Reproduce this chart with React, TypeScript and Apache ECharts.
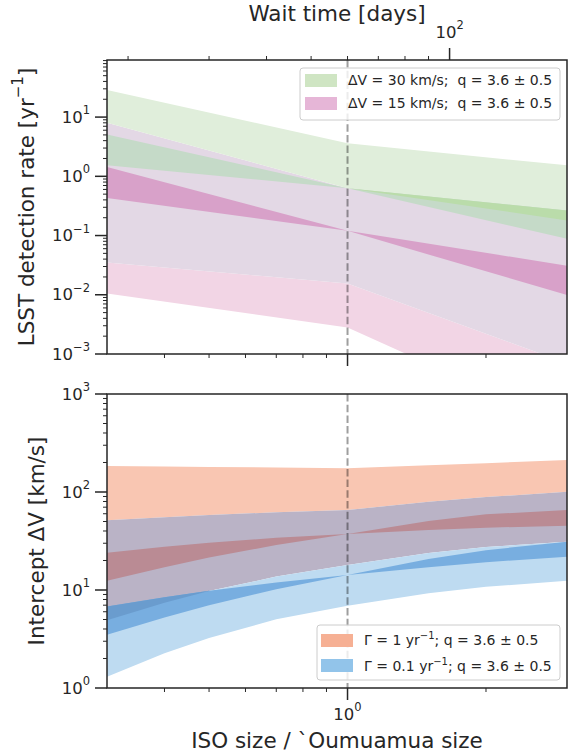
import React, { useEffect, useRef } from 'react';
import * as echarts from 'echarts';

const FONT = 'DejaVu Sans';
const INK = '#262626';

// ---------- Top panel: LSST detection rate vs ISO size ----------
const sizeTop = [0.3, 1, 3];
const greenUpper = [28.7, 3.6, 1.53];
const greenPinkBoundary = [8.0, 0.63, 0.18];
const pinkWideLower = [0.035, 0.0155, 0.0007];
const pinkOuterLower = [0.0105, 0.0028, 0.00006];
const greenQSteep = [5.1, 0.63, 0.088];
const greenQShallow = [1.53, 0.63, 0.265];
const pinkQSteep = [1.44, 0.12, 0.0099];
const pinkQShallow = [0.43, 0.12, 0.031];

// ---------- Bottom panel: intercept dV vs ISO size ----------
const sizeBottom = [0.3, 0.4, 0.5, 0.7, 1, 1.5, 2, 3];
const salmonUpper = [184, 182, 180, 178, 175, 188, 197, 212];
const blueUpper = [51.4, 55.4, 58.2, 62.1, 65.5, 79.3, 88.7, 100.7];
const salmonLower = [4.9, 7.4, 9.75, 13.7, 18, 23.8, 27.5, 31.1];
const blueLower = [1.3, 2.26, 3.24, 5.02, 6.9, 9.27, 10.8, 12.4];
const salmonQA = [24.0, 27.7, 30.4, 34.1, 37.3, 41.0, 43.2, 45.3];
const salmonQB = [12.4, 17.1, 21.4, 28.8, 37.3, 50.7, 59.2, 65.5];
const blueQC = [6.8, 8.43, 9.8, 11.9, 14.2, 17.1, 19.2, 21.9];
const blueQD = [3.5, 5.25, 7.0, 10.2, 14.2, 20.7, 25.5, 31.1];

// ---------- Ticks ----------
const oumuamuaSize = 1;
const sizeMajorTicks = [1];
const sizeMinorTicks = [0.4, 0.5, 0.6, 0.7, 0.8, 0.9, 2];
const waitMajorTicks = [100];
const waitMinorTicks = [20, 30, 40, 50, 60, 70, 80, 90];
const rateMajorTicks = [0.001, 0.01, 0.1, 1, 10];
const dvMajorTicks = [1, 10, 100, 1000];
const minorMultipliers = [2, 3, 4, 5, 6, 7, 8, 9];

const legendTop = ['ΔV = 30 km/s;  q = 3.6 ± 0.5', 'ΔV = 15 km/s;  q = 3.6 ± 0.5'];
const legendBottom = [['Γ = 1 yr', '−1', '; q = 3.6 ± 0.5'], ['Γ = 0.1 yr', '−1', '; q = 3.6 ± 0.5']];

const X_MIN = 0.3, X_MAX = 3;
const RATE_MIN = 0.001, RATE_MAX = 92;
const DV_MIN = 1, DV_MAX = 1000;
const WAIT_MIN = 18, WAIT_MAX = 180;

const minorsOf = (majors: number[], lo: number, hi: number) =>
  majors.flatMap((d) => minorMultipliers.map((m) => m * d)).filter((v) => v > lo && v < hi);

const powLabel = (v: number) => {
  const e = Math.round(Math.log10(v));
  return `{n|10}{e|${e < 0 ? '−' + -e : e}}`;
};

const tickRich = {
  n: { fontSize: 16.5, fontFamily: FONT, fill: INK },
  e: { fontSize: 11.5, fontFamily: FONT, fill: INK, padding: [0, 0, 14, 0] },
};

function band(name: string, gi: number, xs: number[], a: number[], b: number[], color: string) {
  return {
    type: 'custom',
    name,
    xAxisIndex: gi,
    yAxisIndex: gi,
    clip: true,
    silent: true,
    z: 2,
    data: xs.map((x, i) => [x, a[i], b[i]]),
    encode: { x: 0, y: [1, 2] },
    renderItem: (params: any, api: any) => {
      if (params.dataIndex !== 0) return null;
      const pts: number[][] = [];
      for (let i = 0; i < xs.length; i++) pts.push(api.coord([xs[i], a[i]]));
      for (let i = xs.length - 1; i >= 0; i--) pts.push(api.coord([xs[i], b[i]]));
      return { type: 'polygon', shape: { points: pts }, style: { fill: color, stroke: 'none' } };
    },
  };
}

function line(x1: number, y1: number, x2: number, y2: number, w: number, extra: any = {}) {
  return { type: 'line', shape: { x1, y1, x2, y2 }, style: { stroke: INK, lineWidth: w, fill: 'none', ...extra } };
}

function frameSeries(gi: number, yMin: number, yMax: number, yMajor: number[], showXLabels: boolean) {
  const yMinor = minorsOf(yMajor, yMin, yMax);
  return {
    type: 'custom',
    xAxisIndex: gi,
    yAxisIndex: gi,
    clip: false,
    silent: true,
    z: 5,
    data: [[X_MIN, yMin]],
    renderItem: (params: any, api: any) => {
      const tl = api.coord([X_MIN, yMax]);
      const br = api.coord([X_MAX, yMin]);
      const children: any[] = [];
      const d0 = api.coord([oumuamuaSize, yMax]);
      const d1 = api.coord([oumuamuaSize, yMin]);
      children.push(line(d0[0], d0[1], d1[0], d1[1], 2, { stroke: 'rgba(0,0,0,0.38)', lineDash: [7.5, 3.2] }));
      children.push({
        type: 'rect',
        shape: { x: tl[0], y: tl[1], width: br[0] - tl[0], height: br[1] - tl[1] },
        style: { fill: 'none', stroke: INK, lineWidth: 1.5 },
      });
      yMajor.forEach((v) => {
        const p = api.coord([X_MIN, v]);
        children.push(line(p[0] - 12, p[1], p[0], p[1], 1.5));
        children.push({
          type: 'text',
          x: p[0] - 17,
          y: p[1],
          style: { text: powLabel(v), rich: tickRich, align: 'right', verticalAlign: 'middle' },
        });
      });
      yMinor.forEach((v) => {
        const p = api.coord([X_MIN, v]);
        children.push(line(p[0] - 4, p[1], p[0], p[1], 1));
      });
      sizeMajorTicks.forEach((v) => {
        const p = api.coord([v, yMin]);
        children.push(line(p[0], p[1], p[0], p[1] + 12, 1.5));
        if (showXLabels) {
          children.push({
            type: 'text',
            x: p[0],
            y: p[1] + 26,
            style: { text: powLabel(v), rich: tickRich, align: 'center', verticalAlign: 'middle' },
          });
        }
      });
      sizeMinorTicks.forEach((v) => {
        const p = api.coord([v, yMin]);
        children.push(line(p[0], p[1], p[0], p[1] + 4, 1));
      });
      return { type: 'group', children };
    },
  };
}

function waitAxisSeries() {
  return {
    type: 'custom',
    xAxisIndex: 2,
    yAxisIndex: 0,
    clip: false,
    silent: true,
    z: 5,
    data: [[WAIT_MIN, RATE_MAX]],
    renderItem: (params: any, api: any) => {
      const children: any[] = [];
      waitMajorTicks.forEach((v) => {
        const p = api.coord([v, RATE_MAX]);
        children.push(line(p[0], p[1] - 12, p[0], p[1], 1.5));
        children.push({
          type: 'text',
          x: p[0],
          y: p[1] - 28,
          style: { text: powLabel(v), rich: tickRich, align: 'center', verticalAlign: 'middle' },
        });
      });
      waitMinorTicks.forEach((v) => {
        const p = api.coord([v, RATE_MAX]);
        children.push(line(p[0], p[1] - 4, p[0], p[1], 1));
      });
      return { type: 'group', children };
    },
  };
}

const titleRich = {
  n: { fontSize: 21.5, fontFamily: FONT, fill: INK },
  e: { fontSize: 15, fontFamily: FONT, fill: INK, padding: [0, 0, 16, 0] },
};
const legRich = {
  n: { fontSize: 14, fontFamily: FONT, fill: INK },
  e: { fontSize: 10, fontFamily: FONT, fill: INK, padding: [0, 0, 10, 0] },
};

function buildOption() {
  const xLog = (gi: number) => ({ type: 'log', logBase: 10, gridIndex: gi, min: X_MIN, max: X_MAX, show: false });
  const graphics: any[] = [
    { type: 'text', x: 337, y: 13, z: 100, style: { text: 'Wait time [days]', fontSize: 21.5, fontFamily: FONT, fill: INK, align: 'center', verticalAlign: 'middle' } },
    { type: 'text', x: 337, y: 740, z: 100, style: { text: 'ISO size / `Oumuamua size', fontSize: 21.5, fontFamily: FONT, fill: INK, align: 'center', verticalAlign: 'middle' } },
    { type: 'text', x: 26, y: 207, rotation: Math.PI / 2, z: 100, style: { text: '{n|LSST detection rate [yr}{e|−1}{n|]}', rich: titleRich, align: 'center', verticalAlign: 'middle' } },
    { type: 'text', x: 36, y: 541, rotation: Math.PI / 2, z: 100, style: { text: '{n|Intercept ΔV [km/s]}', rich: titleRich, align: 'center', verticalAlign: 'middle' } },
    // top legend
    { type: 'rect', z: 100, shape: { x: 300, y: 68, width: 260, height: 52, r: 3 }, style: { fill: 'rgba(255,255,255,0.8)', stroke: '#cccccc', lineWidth: 1 } },
    { type: 'rect', z: 101, shape: { x: 305, y: 74, width: 32, height: 13 }, style: { fill: '#cfe5c3' } },
    { type: 'rect', z: 101, shape: { x: 305, y: 97, width: 32, height: 13 }, style: { fill: '#e6b6d7' } },
    { type: 'text', z: 101, x: 348, y: 80, style: { text: legendTop[0], fontSize: 14, fontFamily: FONT, fill: INK, align: 'left', verticalAlign: 'middle' } },
    { type: 'text', z: 101, x: 348, y: 103, style: { text: legendTop[1], fontSize: 14, fontFamily: FONT, fill: INK, align: 'left', verticalAlign: 'middle' } },
    // bottom legend
    { type: 'rect', z: 100, shape: { x: 317, y: 625, width: 243, height: 55, r: 3 }, style: { fill: 'rgba(255,255,255,0.8)', stroke: '#cccccc', lineWidth: 1 } },
    { type: 'rect', z: 101, shape: { x: 321, y: 634, width: 32, height: 13 }, style: { fill: '#f6b094' } },
    { type: 'rect', z: 101, shape: { x: 321, y: 659, width: 32, height: 13 }, style: { fill: '#92c4ea' } },
    ...legendBottom.map((parts, i) => ({
      type: 'text', z: 101, x: 364, y: 640 + i * 26,
      style: { text: `{n|${parts[0]}}{e|${parts[1]}}{n|${parts[2]}}`, rich: legRich, align: 'left', verticalAlign: 'middle' },
    })),
  ];

  return {
    animation: false,
    backgroundColor: '#ffffff',
    grid: [
      { left: 107, top: 60, width: 460, height: 294 },
      { left: 107, top: 394, width: 460, height: 294 },
    ],
    xAxis: [
      xLog(0),
      xLog(1),
      { type: 'log', logBase: 10, gridIndex: 0, position: 'top', min: WAIT_MIN, max: WAIT_MAX, show: false },
    ],
    yAxis: [
      { type: 'log', logBase: 10, gridIndex: 0, min: RATE_MIN, max: RATE_MAX, show: false },
      { type: 'log', logBase: 10, gridIndex: 1, min: DV_MIN, max: DV_MAX, show: false },
    ],
    series: [
      // top panel
      band('ΔV = 15 km/s outer', 0, sizeTop, pinkWideLower, pinkOuterLower, '#f2d5e5'),
      band('ΔV = 15 km/s', 0, sizeTop, greenPinkBoundary, pinkWideLower, '#e3d8e5'),
      band('ΔV = 30 km/s', 0, sizeTop, greenUpper, greenPinkBoundary, '#e0eedb'),
      band('ΔV = 30 km/s q-range', 0, sizeTop, greenQSteep, greenQShallow, '#c5dac8'),
      band('ΔV = 30 km/s q-range (only green)', 0, sizeTop.slice(1), greenQShallow.slice(1), greenPinkBoundary.slice(1), '#badcaa'),
      band('ΔV = 15 km/s q-range', 0, sizeTop, pinkQSteep, pinkQShallow, '#d8a1c9'),
      // bottom panel
      band('Γ = 1 outer', 1, sizeBottom, salmonUpper, blueUpper, '#f9c6b2'),
      band('Γ = 1 / Γ = 0.1 overlap', 1, sizeBottom, blueUpper, salmonLower, '#bab3c6'),
      band('Γ = 0.1 outer', 1, sizeBottom, salmonLower, blueLower, '#bedbf1'),
      band('Γ = 1 q-range', 1, sizeBottom, salmonQA, salmonQB, '#ba8b94'),
      band('Γ = 0.1 q-range', 1, sizeBottom, blueQC, blueQD, '#78aee0'),
      band('Γ = 0.1 q-range overlap', 1, sizeBottom.slice(0, 3), blueQC.slice(0, 3), salmonLower.slice(0, 3), '#6a9cce'),
      frameSeries(0, RATE_MIN, RATE_MAX, rateMajorTicks, false),
      frameSeries(1, DV_MIN, DV_MAX, dvMajorTicks, true),
      waitAxisSeries(),
    ],
    graphic: { elements: graphics },
  };
}

export default function App() {
  const ref = useRef<HTMLDivElement>(null);
  useEffect(() => {
    const chart = echarts.init(ref.current as HTMLDivElement, undefined, { renderer: 'svg' });
    chart.setOption(buildOption() as any);
    return () => chart.dispose();
  }, []);
  return (
    <div
      ref={ref}
      style={{ position: 'absolute', left: 0, top: 0, width: 577, height: 754, background: '#ffffff' }}
    />
  );
}
